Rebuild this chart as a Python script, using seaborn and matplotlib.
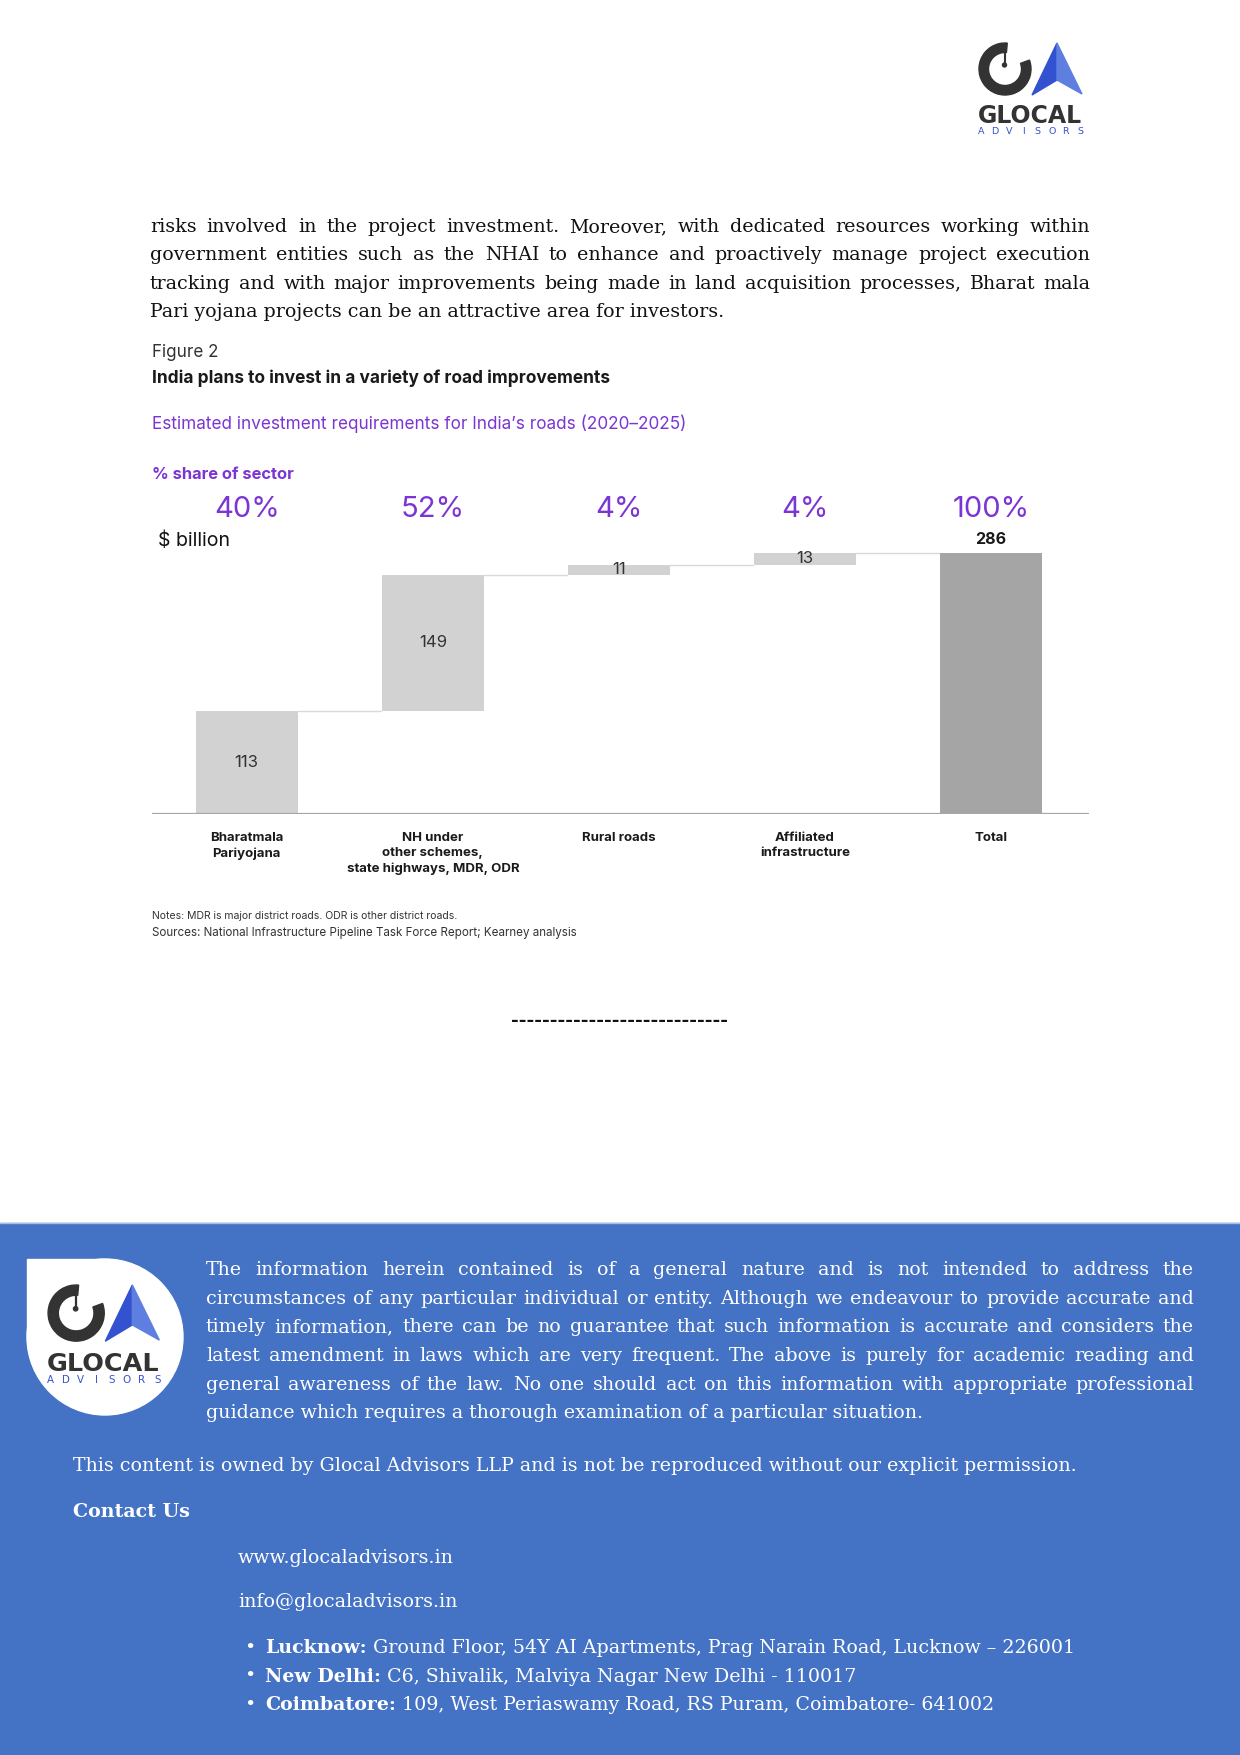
import numpy as np
import seaborn as sns
import matplotlib.pyplot as plt
from matplotlib import patches, transforms

W, H = 1240, 1755

# waterfall data ($ billion) and share of sector
categories = ["Bharatmala\nPariyojana",
              "NH under\nother schemes,\nstate highways, MDR, ODR",
              "Rural roads",
              "Affiliated\ninfrastructure",
              "Total"]
values = [113, 149, 11, 13, 286]
shares = ["40%", "52%", "4%", "4%", "100%"]
is_total = [False, False, False, False, True]

body_lines = [
    "risks involved in the project investment. Moreover, with dedicated resources working within",
    "government entities such as the NHAI to enhance and proactively manage project execution",
    "tracking and with major improvements being made in land acquisition processes, Bharat mala",
    "Pari yojana projects can be an attractive area for investors.",
]
footer_lines = [
    "The information herein contained is of a general nature and is not intended to address the",
    "circumstances of any particular individual or entity. Although we endeavour to provide accurate and",
    "timely information, there can be no guarantee that such information is accurate and considers the",
    "latest amendment in laws which are very frequent. The above is purely for academic reading and",
    "general awareness of the law. No one should act on this information with appropriate professional",
    "guidance which requires a thorough examination of a particular situation.",
]
owner_line = ("This content is owned by Glocal Advisors LLP and is not be reproduced "
              "without our explicit permission.")
offices = [
    ("Lucknow:", " Ground Floor, 54Y AI Apartments, Prag Narain Road, Lucknow \u2013 226001"),
    ("New Delhi:", " C6, Shivalik, Malviya Nagar New Delhi - 110017"),
    ("Coimbatore:", " 109, West Periaswamy Road, RS Puram, Coimbatore- 641002"),
]

PURPLE = "#7B35D4"
SERIF = "DejaVu Serif"

sns.set_theme(style="white")
plt.rcParams["font.family"] = ["Inter", "DejaVu Sans"]

fig = plt.figure(figsize=(W / 100, H / 100), dpi=100)
page = fig.add_axes([0, 0, 1, 1])
page.set_xlim(0, W)
page.set_ylim(H, 0)
page.axis("off")
renderer = fig.canvas.get_renderer()


def text_width(t):
    return t.get_window_extent(renderer).width


def put(x, y, s, size, width=None, **kw):
    t = page.text(x, y, s, fontsize=size, va="baseline", **kw)
    if width:
        t.set_fontsize(size * width / text_width(t))
    return t


def justify(x0, x1, y, line, size, **kw):
    words = line.split()
    ts = [page.text(0, y, w, fontsize=size, va="baseline", **kw) for w in words]
    ws = [text_width(t) for t in ts]
    gap = (x1 - x0 - sum(ws)) / (len(words) - 1)
    x = x0
    for t, w in zip(ts, ws):
        t.set_x(x)
        x += w + gap


def logo(x0, y0, s):
    dark, blue, light = "#333333", "#3352D0", "#5F7FE0"
    page.add_patch(patches.Wedge((x0 + 27 * s, y0 + 26 * s), 26 * s, -20, 275,
                                 width=9.5 * s, color=dark, zorder=2))
    page.plot([x0 + 27 * s] * 2, [y0 + 9 * s, y0 + 22 * s], color=dark, lw=1.5 * s, zorder=2)
    page.add_patch(patches.Circle((x0 + 26.5 * s, y0 + 22 * s), 2 * s, color=dark, zorder=2))
    apex, notch = (x0 + 79 * s, y0), (x0 + 79 * s, y0 + 37 * s)
    page.add_patch(patches.Polygon([apex, (x0 + 54 * s, y0 + 52 * s), notch], color=blue, zorder=2))
    page.add_patch(patches.Polygon([apex, notch, (x0 + 104 * s, y0 + 51 * s)], color=light, zorder=2))
    put(x0, y0 + 80 * s, "GLOCAL", 20, width=104 * s, weight="bold", color=dark,
        family="DejaVu Sans")
    for i, ch in enumerate("ADVISORS"):
        page.text(x0 + (3 + i * 99 / 7) * s, y0 + 91 * s, ch, fontsize=6.8 * s,
                  ha="center", va="baseline", color=blue, family="DejaVu Sans")


# serif size taken from the owner line width
probe = page.text(0, 0, owner_line, fontsize=14, family=SERIF)
serif_size = 14 * 1009 / text_width(probe)
probe.remove()

# header logo and body paragraph
logo(978, 43, 1.0)
for k, line in enumerate(body_lines):
    y = 232 + k * 28.4
    if k < len(body_lines) - 1:
        justify(150, 1090, y, line, serif_size, family=SERIF, color="#111111")
    else:
        put(150, y, line, serif_size, family=SERIF, color="#111111")

# figure headings
put(152, 357, "Figure 2", 11, width=66, color="#333333")
put(152, 383, "India plans to invest in a variety of road improvements", 11, width=459,
    weight="bold", color="#1a1a1a")
put(152, 429, "Estimated investment requirements for India\u2019s roads (2020\u20132025)", 12,
    width=533, color=PURPLE)
put(152, 479, "% share of sector", 11, width=143, weight="bold", color=PURPLE)
put(158, 546, "$ billion", 12, width=72, color="#111111")

# waterfall chart
px_per = 261 / 286
ymax = 300
ax = fig.add_axes([152 / W, 1 - 814 / H, 937 / W, ymax * px_per / H])
tops = list(np.cumsum(values[:-1])) + [values[-1]]
bases = [t - v for t, v in zip(tops, values)]
colors = ["#A5A5A5" if t else "#D2D2D2" for t in is_total]
sns.barplot(x=categories, y=tops, hue=categories, palette=colors, legend=False,
            width=0.55, saturation=1, linewidth=0, ax=ax, zorder=2)
sns.barplot(x=categories, y=bases, color="white", width=0.55, saturation=1,
            linewidth=0, ax=ax, zorder=3)
for i in range(len(values) - 1):
    ax.plot([i + 0.275, i + 0.725], [tops[i], tops[i]], color="#D9D9D9", lw=1, zorder=1)
ax.axhline(0, color="#A6A6A6", lw=1.6, zorder=5)
for i, v in enumerate(values):
    if is_total[i]:
        ax.text(i, tops[i] + 15, str(v), ha="center", va="center", fontsize=11.5,
                weight="bold", color="#1a1a1a", clip_on=False)
    else:
        ax.text(i, bases[i] + v / 2, str(v), ha="center", va="center", fontsize=12,
                color="#333333", zorder=6)
ax.set_xlim(-0.509, 4.526)
ax.set_ylim(0, ymax)
ax.set_yticks([])
ax.set_xlabel("")
ax.set_ylabel("")
sns.despine(ax=ax, left=True, bottom=True)
ax.tick_params(axis="x", length=0, pad=13)
for lbl in ax.get_xticklabels():
    lbl.set_fontweight("bold")
    lbl.set_fontsize(9.5)
    lbl.set_color("#1a1a1a")
    lbl.set_linespacing(1.35)
ax.patch.set_alpha(0)

share_trans = transforms.blended_transform_factory(ax.transData, page.transData)
for i, s in enumerate(shares):
    page.text(i, 517, s, transform=share_trans, ha="center", va="baseline",
              fontsize=21, color=PURPLE)

put(152, 919, "Notes: MDR is major district roads. ODR is other district roads.", 7.5,
    color="#333333")
put(152, 936, "Sources: National Infrastructure Pipeline Task Force Report; Kearney analysis",
    7.5, width=425, color="#333333")
put(511, 1026, "-" * 28, 12, width=218, family=SERIF, weight="bold", color="#111111")

# footer band with the teardrop logo badge
page.add_patch(patches.Rectangle((0, 1223), W, H - 1223, color="#4472C4", zorder=1))
page.plot([0, W], [1223, 1223], color="#A9BEE3", lw=1, zorder=1)
page.add_patch(patches.Circle((105, 1337), 78, color="white", zorder=1.5))
page.add_patch(patches.Rectangle((27, 1259), 78, 78, color="white", zorder=1.5))
logo(47, 1285, 1.08)

for k, line in enumerate(footer_lines):
    y = 1275 + k * 28.7
    if k < len(footer_lines) - 1:
        justify(206, 1194, y, line, serif_size, family=SERIF, color="white")
    else:
        put(206, y, line, serif_size, family=SERIF, color="white")

put(73, 1471, owner_line, serif_size, family=SERIF, color="white")
put(73, 1517, "Contact Us", serif_size, family=SERIF, weight="bold", color="white")
put(238, 1563, "www.glocaladvisors.in", serif_size, family=SERIF, color="white")
put(238, 1607, "info@glocaladvisors.in", serif_size, family=SERIF, color="white")
for k, (city, addr) in enumerate(offices):
    y = 1653 + k * 28.5
    put(244, y, "\u2022", serif_size, family=SERIF, color="white")
    t = put(265, y, city, serif_size, family=SERIF, weight="bold", color="white")
    put(265 + text_width(t), y, addr, serif_size, family=SERIF, color="white")

fig.savefig("out.png", dpi=100)
